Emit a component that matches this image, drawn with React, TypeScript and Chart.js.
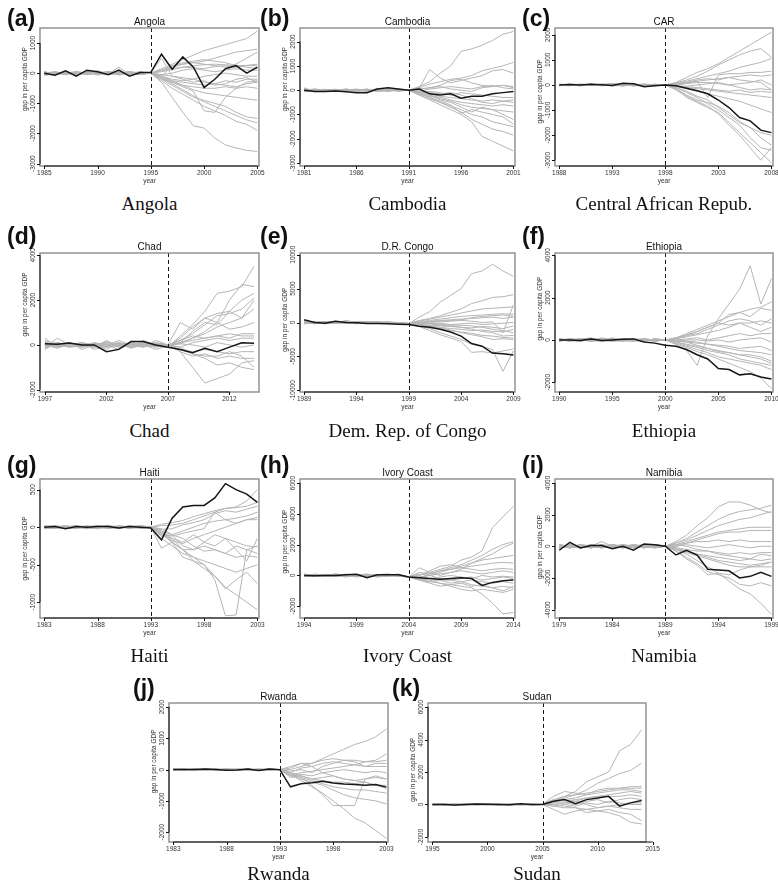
import React, { useEffect, useRef } from "react";
import { Chart, registerables } from "chart.js";
Chart.register(...registerables);

// ---------------- DATA (gap in per capita GDP) ----------------
// (a) Angola 1985-2005
const angolaXTicks = [1985, 1990, 1995, 2000, 2005];
const angolaYTicks = [-3000, -2000, -1000, 0, 1000];
const angolaBlack = [0,-70,80,-100,100,50,-50,100,-100,20,30,630,130,540,200,-480,-200,150,250,0,200];
const angolaGray = [
  [-50,0,50,-30,0,80,-20,30,0,-40,0,150,300,450,600,750,850,950,1050,1150,1400],
  [30,-20,0,50,-50,20,0,-30,60,0,0,100,200,300,350,400,500,600,700,750,800],
  [0,40,-30,0,30,-40,50,0,-20,30,0,-100,250,300,350,300,250,200,300,500,700],
  [-80,0,30,20,-30,0,40,-60,20,0,0,50,120,200,250,280,300,280,250,260,300],
  [50,-40,0,-20,40,0,-30,200,-50,40,0,80,150,200,180,150,220,250,200,250,250],
  [0,20,-50,60,0,-20,30,0,40,-30,0,-50,0,100,150,100,50,100,150,100,100],
  [-20,0,20,-40,60,30,0,-20,0,50,0,500,-100,-150,-200,-100,-50,0,-50,-100,-100],
  [40,-30,0,30,-20,50,-40,20,-30,0,0,-100,-200,-250,-200,-300,-350,-250,-300,-200,-200],
  [0,50,-20,0,30,-60,20,40,-10,-20,0,-150,-250,-300,-350,-400,-350,-400,-450,-350,-300],
  [-30,0,40,-50,0,20,-20,0,50,-40,0,-200,-300,-400,-450,-500,-500,-450,-500,-450,-500],
  [20,-20,0,40,-40,0,60,-30,0,30,0,-100,-250,-400,-550,-650,-700,-750,-800,-850,-900],
  [0,30,-40,20,0,-30,0,50,-20,0,0,-150,-300,-450,-600,-1250,-1300,-800,-500,-300,-250],
  [-50,20,0,-20,50,0,-40,0,30,-20,0,-200,-400,-600,-800,-900,-1000,-1100,-1300,-1450,-1500],
  [30,0,-30,50,-20,40,0,-50,0,20,0,-150,-350,-550,-750,-950,-1100,-1250,-1400,-1550,-1650],
  [0,-40,20,0,-30,20,-20,40,-40,0,0,-250,-500,-700,-900,-1100,-1250,-1400,-1600,-1700,-1900],
  [-20,40,0,-40,20,0,30,-20,20,-30,0,-300,-800,-1300,-1750,-1820,-2150,-2380,-2480,-2560,-2600],
  [40,0,-20,0,-40,30,0,20,-50,30,0,-50,-100,-200,-300,-250,-400,-350,-200,-150,-300],
  [0,-20,50,-30,0,-20,40,-40,20,0,0,100,250,350,400,450,400,350,250,200,150],
];

// (b) Cambodia 1981-2001
const cambodiaXTicks = [1981, 1986, 1991, 1996, 2001];
const cambodiaYTicks = [-3000, -2000, -1000, 0, 1000, 2000];
const cambodiaBlack = [0,-50,-50,-30,-60,-100,-100,50,100,50,0,50,-150,-200,-150,-330,-250,-250,-150,-100,-50];
const cambodiaGray = [
  [50,-30,0,40,-20,0,30,-40,20,0,0,150,350,700,1000,1600,1700,1850,2050,2300,2420],
  [-40,0,30,-20,40,-30,0,20,-30,40,0,100,250,350,450,500,600,800,900,1000,1150],
  [0,40,-40,0,-30,30,-20,0,40,-20,0,100,850,500,300,400,500,600,800,850,700],
  [100,-60,0,-30,0,20,-40,80,0,-10,0,50,100,200,400,450,300,200,150,200,150],
  [-20,20,-50,0,50,-20,40,-30,0,30,0,-50,50,100,150,100,50,150,200,100,50],
  [30,0,20,-40,0,40,0,-20,-40,0,0,-100,-50,-100,-200,-100,-150,-200,-250,-300,-300],
  [0,-40,0,30,-50,0,-30,40,20,-30,0,-50,-150,-250,-300,-350,-400,-450,-400,-450,-500],
  [-60,30,-20,0,20,-40,30,0,-20,20,0,-100,-200,-300,-400,-500,-550,-600,-650,-600,-650],
  [20,-20,40,-50,0,30,-50,20,0,-40,0,-150,-250,-350,-450,-600,-700,-750,-800,-850,-900],
  [-30,0,-20,20,30,-50,0,-20,50,0,0,-50,-200,-400,-500,-700,-900,-700,-800,-1000,-1200],
  [0,50,0,-40,0,20,-20,0,-30,20,0,-100,-300,-450,-600,-950,-800,-900,-1000,-1100,-1400],
  [40,-30,20,0,-40,0,50,-50,0,0,0,-200,-350,-500,-650,-800,-1000,-1100,-1300,-1400,-1500],
  [-20,20,0,30,-20,-30,0,30,-20,30,0,-150,-300,-500,-700,-900,-1200,-1400,-1600,-1700,-1850],
  [0,-50,30,-20,40,0,-40,0,30,-30,0,-200,-400,-600,-800,-1000,-1300,-1900,-2100,-2300,-2500],
  [60,0,-40,20,0,-20,20,-30,0,20,0,50,100,150,50,0,-50,100,150,200,100],
  [-50,40,0,-30,20,40,-30,0,-40,0,0,-30,-100,-150,-100,-200,-350,-500,-550,-450,-400],
];

// (c) CAR 1988-2008
const carXTicks = [1988, 1993, 1998, 2003, 2008];
const carYTicks = [-3000, -2000, -1000, 0, 1000, 2000];
const carBlack = [0,20,0,30,10,-20,70,50,-70,-30,0,-30,-130,-230,-350,-600,-900,-1300,-1430,-1800,-1900];
const carGray = [
  [0,-20,30,0,20,40,-20,0,30,-20,0,100,300,500,650,850,1100,1350,1600,1850,2100],
  [20,0,-20,40,0,30,0,-30,0,20,0,80,200,350,550,800,1000,1200,1350,1450,1100],
  [-20,30,0,20,-30,0,40,20,-20,0,0,50,150,250,350,450,550,700,800,900,1050],
  [0,-30,20,-20,30,-40,0,-20,40,0,0,50,100,150,-500,400,450,450,500,500,550],
  [30,0,-30,0,20,60,-40,0,0,30,0,30,80,150,200,250,300,350,400,350,400],
  [-30,20,0,-20,0,20,30,-30,20,-20,0,0,50,100,100,50,0,50,100,200,0],
  [0,-20,20,30,-20,0,-30,40,0,-30,0,-50,-50,0,50,100,0,-100,-200,-150,-200],
  [20,30,-20,0,20,-30,50,-30,-20,20,0,-30,-80,-100,-150,-200,-250,-200,-300,-250,-300],
  [-20,0,30,-30,0,40,0,20,-30,0,0,-50,-100,-150,-200,-250,-300,-350,-400,-450,-500],
  [0,30,0,20,-30,0,-20,0,30,-20,0,-50,-150,-250,-350,-450,-550,-650,-800,-950,-1100],
  [30,-20,-30,0,30,0,20,-40,0,20,0,-100,-250,-450,-600,-900,-1200,-1500,-1700,-1900,-2000],
  [-30,20,20,-20,0,-20,-40,30,20,0,0,-150,-400,-600,-700,-850,-1100,-1450,-1700,-2100,-2400],
  [0,-20,0,30,-20,20,40,-20,-30,30,0,-100,-300,-500,-750,-1000,-1300,-1600,-2100,-2500,-2600],
  [20,0,-20,-20,30,0,0,20,0,-20,0,-150,-500,-700,-900,-1100,-1500,-1900,-2300,-2700,-3100],
  [-20,-30,30,0,0,-30,20,0,-20,0,0,-200,-450,-650,-850,-1150,-1600,-2000,-2500,-3000,-2500],
  [10,20,-10,10,-10,40,10,10,-10,10,0,30,100,200,250,200,300,200,150,100,-200],
];

// (d) Chad 1997-2014
const chadXTicks = [1997, 2002, 2007, 2012];
const chadYTicks = [-2000, 0, 2000, 4000];
const chadBlack = [50,30,80,0,0,-300,-200,150,150,0,-100,-200,-350,-150,-300,-100,100,80];
const chadGray = [
  [300,-100,100,-200,0,100,50,-100,200,0,-100,400,900,1500,2300,2400,2600,3500],
  [-100,300,0,100,-200,-50,200,0,-100,200,0,1000,700,1200,1000,2000,2700,2600],
  [200,0,-100,-50,100,-100,0,100,0,-200,-50,300,800,1200,1400,1500,2000,2300],
  [0,-150,50,0,-100,200,-100,-50,100,0,0,200,500,900,1300,1400,1600,2100],
  [-200,100,-50,100,0,-50,100,-100,0,100,0,100,600,1000,900,1500,1200,2000],
  [100,-50,0,-100,50,0,-200,100,-50,0,0,100,300,500,800,1000,1200,1600],
  [0,50,-100,50,-100,150,0,0,100,-100,0,50,300,600,1000,700,800,1000],
  [-50,0,100,-50,50,0,50,-150,0,50,0,100,200,300,400,300,500,500],
  [150,-100,0,50,0,-100,0,50,-50,0,0,-100,100,200,300,200,300,300],
  [-150,50,-50,0,-50,50,-50,0,50,-50,0,50,0,-100,100,0,-100,0],
  [50,0,50,-100,100,0,100,-50,0,-100,0,-200,-300,-200,-300,-400,-300,-300],
  [0,-100,0,100,-50,-100,50,0,-100,50,0,-300,-500,-400,-600,-500,-600,-600],
  [-100,50,100,-100,0,50,-100,100,50,0,0,-200,-400,-600,-900,-800,-1000,-1100],
  [100,-50,-50,0,-100,100,0,-100,100,-50,0,-300,-1000,-1700,-1500,-1300,-800,-700],
  [50,100,0,-50,0,-200,100,0,-50,0,0,-100,-400,-500,-500,-300,-500,-1000],
  [-50,0,50,50,-100,0,-50,50,0,100,0,200,400,300,400,500,400,400],
];

// (e) D.R. Congo 1989-2009
const drcXTicks = [1989, 1994, 1999, 2004, 2009];
const drcYTicks = [-10000, -5000, 0, 5000, 10000];
const drcBlack = [400,0,-100,200,0,-50,-150,-150,-200,-250,-300,-550,-700,-1000,-1400,-2000,-3100,-3500,-4500,-4600,-4800];
const drcGray = [
  [-200,0,100,-100,300,0,-100,0,-100,-200,-200,800,1600,3000,4000,5000,7200,7600,8600,7600,6800],
  [100,-100,0,200,0,-200,100,0,-100,0,-100,300,600,1000,1500,2000,2800,3200,3700,3800,4100],
  [-100,100,-100,0,200,100,0,-100,0,-100,-100,200,500,800,1100,1400,1700,2000,2100,2200,2300],
  [0,-200,100,100,-100,0,-100,100,-100,0,-200,100,300,500,700,900,1000,1100,1200,1300,1200],
  [200,0,-200,0,100,-100,0,100,0,-100,-200,0,200,300,400,500,600,700,800,600,800],
  [-200,100,0,-100,-100,100,100,0,-100,-100,-200,-100,0,100,200,300,200,0,100,-1500,2600],
  [0,0,100,-100,0,0,-100,0,100,-100,-200,-200,-200,-100,-300,-200,-100,-300,-200,-100,0],
  [100,-100,0,100,-100,100,0,-100,0,0,-200,-300,-400,-500,-600,-700,-800,-600,-700,-900,-500],
  [-100,200,-100,0,0,-100,100,-100,0,-100,-200,-300,-500,-700,-900,-1000,-1200,-1100,-1300,-1400,-1000],
  [0,-100,100,0,100,0,-100,0,-100,0,-200,-400,-600,-900,-1200,-1400,-1600,-1900,-2000,-2200,-2300],
  [200,0,0,-100,0,100,0,-100,0,-100,-200,-300,-500,-800,-1100,-1500,-1800,-2100,-2500,-2400,-2500],
  [-100,0,-100,100,0,-100,0,100,-100,0,-200,-500,-900,-1500,-2000,-2500,-3200,-3500,-4000,-7200,-4200],
  [100,100,0,-100,100,0,-100,0,0,-100,-200,-600,-1200,-1800,-2300,-2800,-4400,-4300,-4500,-4200,-3900],
  [0,-100,0,0,-100,0,100,0,-100,0,-200,-100,-200,-400,-500,-700,-1000,-1300,-1500,-2000,-1900],
  [-100,100,100,0,0,-100,0,-100,0,-100,-200,0,100,200,300,400,700,900,1000,1100,900],
  [0,-100,0,100,0,100,-100,0,100,0,-200,-100,-100,-300,-400,-400,-500,-700,-1000,-1200,-1500],
];

// (f) Ethiopia 1990-2010
const ethiopiaXTicks = [1990, 1995, 2000, 2005, 2010];
const ethiopiaYTicks = [-2000, 0, 2000, 4000];
const ethiopiaBlack = [0,0,-30,50,-30,0,30,50,-100,-150,-250,-300,-450,-700,-900,-1350,-1400,-1650,-1600,-1750,-1850];
const ethiopiaGray = [
  [0,-50,50,0,-50,50,-30,0,50,0,0,-200,-500,-1200,200,1000,1700,2400,3500,1700,2900],
  [-50,50,0,-50,100,0,50,-50,0,-50,0,100,300,500,700,900,1100,1300,1450,1550,1800],
  [50,0,-50,50,0,-50,0,50,-50,50,0,100,250,400,600,800,1200,1300,1100,1500,1400],
  [0,50,0,-50,50,0,-50,0,0,-50,0,50,200,300,500,700,900,1000,900,700,1000],
  [-50,0,50,100,-50,100,0,-50,50,0,0,100,200,400,600,800,700,800,800,900,800],
  [50,-50,0,0,50,-50,50,0,-50,50,0,0,50,100,0,100,200,300,200,300,300],
  [0,0,-50,50,0,50,-50,50,0,-50,0,-50,0,0,-50,0,-100,0,50,100,-100],
  [-50,50,0,-50,0,-50,0,0,50,-50,0,-50,-100,-150,-200,-250,-300,-400,-350,-300,-500],
  [0,-50,50,50,-50,0,0,-50,0,0,0,-100,-200,-300,-400,-500,-600,-700,-700,-800,-1000],
  [50,0,-50,0,50,0,50,0,-50,50,0,-100,-250,-350,-500,-600,-700,-900,-1000,-1100,-1200],
  [-50,0,50,-50,0,50,-50,-50,50,0,0,-150,-300,-450,-600,-800,-900,-1000,-1100,-1200,-1400],
  [0,50,0,0,-50,-50,50,50,0,-50,0,-200,-350,-550,-700,-900,-1100,-1300,-1500,-1800,-2300],
  [50,-50,-50,50,50,0,0,-50,-50,50,0,-50,-100,-250,-400,-550,-600,-700,-800,-900,-1100],
  [0,0,50,-50,-50,50,0,0,50,-50,0,0,-50,-100,-200,-300,-400,-500,-550,-600,-700],
  [-50,50,0,0,50,-50,-50,50,0,0,0,50,150,250,350,450,600,800,600,400,600],
];

// (g) Haiti 1983-2003
const haitiXTicks = [1983, 1988, 1993, 1998, 2003];
const haitiYTicks = [-1000, -500, 0, 500];
const haitiBlack = [0,10,-20,10,0,10,10,-10,10,0,-10,-170,120,270,290,290,390,580,500,440,330];
const haitiGray = [
  [10,-10,20,0,-20,10,-10,20,0,10,0,40,60,90,140,180,220,250,270,350,500],
  [-20,10,0,20,-10,0,20,-10,10,-10,0,20,30,50,100,150,200,250,260,280,330],
  [10,20,-10,-20,10,20,0,10,-20,0,0,-30,-20,30,60,100,180,220,200,240,280],
  [0,-10,10,10,-10,-20,10,0,10,20,0,-50,-100,-50,0,50,80,100,120,150,200],
  [-10,0,-10,20,0,10,-10,-10,20,-10,0,-80,-120,-80,-50,-20,200,100,50,100,130],
  [20,10,0,-10,10,0,20,0,-10,0,0,-100,-150,-200,-100,-200,-250,-150,-200,-250,-260],
  [0,-20,10,0,20,-10,0,20,0,-10,0,-120,-100,-250,-300,-250,-300,-350,-400,-380,-400],
  [-10,10,20,-10,0,10,-20,0,10,10,0,-60,-150,-300,-400,-450,-500,-550,-600,-550,-500],
  [10,0,-20,10,-20,0,10,-10,0,-10,0,-280,-200,-400,-450,-500,-650,-820,-700,-600,-750],
  [0,10,0,-10,10,-10,0,10,-10,20,0,-100,-200,-300,-450,-550,-650,-800,-900,-1000,-1100],
  [-20,-10,10,0,-10,20,10,-20,10,0,0,-150,-250,-350,-400,-500,-700,-1180,-1170,-300,-350],
  [10,0,0,20,0,-10,-10,10,0,-10,0,-50,-200,-300,-300,-200,-100,-150,-300,-450,-150],
  [0,20,-10,-10,10,0,20,0,-10,10,0,-80,-180,-220,-150,-100,-50,0,50,100,100],
  [-10,-10,0,10,-20,10,0,-10,20,0,0,-20,-100,-150,-250,-320,-300,-350,-250,-300,-250],
];

// (h) Ivory Coast 1994-2014
const ivoryXTicks = [1994, 1999, 2004, 2009, 2014];
const ivoryYTicks = [-2000, 0, 2000, 4000, 6000];
const ivoryBlack = [0,-20,0,0,50,80,-150,50,50,50,-100,-150,-200,-250,-200,-150,-200,-650,-450,-350,-300];
const ivoryGray = [
  [-50,100,0,-50,50,0,-100,50,100,0,-100,0,200,400,600,1000,1200,1600,3100,3800,4500],
  [50,0,-50,100,0,50,0,-100,0,50,-100,200,100,300,500,700,1000,1300,1700,2000,2200],
  [0,-50,50,0,-100,0,50,0,-50,100,-100,500,200,0,200,400,800,1100,1400,1800,2100],
  [-50,50,0,50,0,-100,0,50,0,-50,-100,-100,0,200,400,600,800,1000,1100,1200,1300],
  [100,0,-50,0,50,50,-50,0,50,0,-100,-200,100,300,400,500,600,700,800,850,800],
  [0,50,50,-50,-50,0,50,-50,0,50,-100,0,300,600,700,500,400,300,400,450,400],
  [-50,-50,0,50,0,50,0,0,-50,0,-100,-100,0,100,200,300,200,100,200,300,200],
  [50,0,0,-50,100,-50,-50,50,50,-50,-100,-300,-200,-100,0,-100,-200,0,-100,-50,-100],
  [0,0,50,0,-50,0,100,-50,0,0,-100,-200,-400,-300,-500,-400,-300,-400,-500,-400,-500],
  [-50,50,-50,0,0,50,0,0,-50,50,-100,-300,-500,-700,-600,-500,-700,-600,-800,-700,-800],
  [50,-50,0,100,-50,0,-50,50,0,0,-100,-200,-300,-500,-700,-900,-1000,-900,-1000,-1100,-900],
  [0,50,0,-50,0,0,50,-100,50,0,-100,-300,-400,-500,-600,-700,-800,-1200,-1800,-2500,-2400],
  [-50,0,50,0,50,-50,0,0,-50,50,-100,-100,-200,-300,-300,-400,-600,-700,-800,-1000,-700],
  [50,50,-50,-50,0,50,-50,50,0,-50,-100,100,0,-200,-300,-200,-100,-300,-200,-100,-200],
];

// (i) Namibia 1979-1999
const namibiaXTicks = [1979, 1984, 1989, 1994, 1999];
const namibiaYTicks = [-4000, -2000, 0, 2000, 4000];
const namibiaBlack = [-250,250,-100,50,50,-150,0,-250,150,100,0,-550,-250,-550,-1450,-1500,-1550,-2000,-1900,-1650,-1900];
const namibiaGray = [
  [-100,100,0,-100,100,0,-100,50,0,100,0,300,700,1300,1800,2500,2800,2800,2600,2300,2100],
  [100,-100,100,0,-100,100,0,-100,100,0,0,200,500,900,1300,1700,2000,2200,2300,2400,2600],
  [0,50,-100,100,0,-100,100,0,-50,50,0,200,400,700,1000,1300,1500,1700,1800,2000,2200],
  [-100,0,100,0,300,0,-100,100,0,-100,0,100,300,500,700,900,1000,1100,1200,1200,1200],
  [100,-100,0,-100,0,100,0,-100,100,100,0,0,200,400,600,800,900,900,1000,1000,1000],
  [0,100,-100,100,-100,0,100,0,-100,0,0,100,200,300,300,400,300,400,300,300,300],
  [-100,0,0,-100,100,-100,0,100,0,100,0,0,100,0,-100,0,100,0,-100,0,0],
  [100,-100,100,0,0,100,-100,0,100,-100,0,-100,-200,-300,-300,-400,-500,-400,-500,-400,-400],
  [0,0,-100,0,-100,0,100,-100,0,100,0,-200,-300,-500,-600,-700,-800,-900,-800,-900,-800],
  [-100,100,0,100,0,-100,0,0,-100,0,0,-100,-300,-500,-700,-900,-1000,-1100,-1200,-1100,-1000],
  [100,0,0,-100,100,0,-100,100,0,-100,0,-200,-400,-600,-800,-1000,-1200,-1300,-1300,-1300,-1300],
  [0,-100,100,0,-100,100,0,0,100,0,0,-300,-700,-1100,-1600,-1800,-2000,-2400,-2500,-2300,-2500],
  [-100,100,0,0,100,-100,100,-100,0,0,0,-200,-500,-900,-1300,-1700,-2200,-2700,-3000,-3600,-4300],
  [100,0,-100,100,0,0,-100,0,100,-100,0,-300,-800,-1200,-1800,-1700,-1800,-1500,-1300,-1200,-1000],
  [0,-100,0,0,-100,100,0,100,-100,0,0,100,0,-200,-300,-500,-600,-700,-800,-500,-600],
];

// (j) Rwanda 1983-2003
const rwandaXTicks = [1983, 1988, 1993, 1998, 2003];
const rwandaYTicks = [-2000, -1000, 0, 1000, 2000];
const rwandaBlack = [0,0,0,20,0,-20,-10,20,-30,20,0,-550,-450,-420,-370,-430,-460,-480,-500,-480,-560];
const rwandaGray = [
  [0,20,-20,0,10,-10,20,0,-10,0,0,100,200,200,350,500,650,800,900,1050,1300],
  [-20,0,20,-10,0,20,0,-20,10,0,0,0,100,200,300,350,300,300,250,300,500],
  [20,-10,0,20,-20,0,-10,20,0,-10,0,-100,50,100,200,250,200,150,250,250,300],
  [0,10,-10,0,20,-20,10,0,-20,10,0,-50,0,-100,100,200,300,250,100,200,200],
  [-10,0,10,-20,0,10,0,-10,20,-10,0,-150,-100,-50,0,50,100,150,100,100,100],
  [10,-20,0,10,-10,0,20,-20,0,20,0,-200,-150,-200,-100,-50,0,-50,-100,-50,-100],
  [0,20,0,-10,10,-20,0,10,-10,0,0,-250,-200,-300,-250,-200,-300,-350,-300,-200,-300],
  [-20,0,-10,10,0,20,-20,0,10,-10,0,-100,-200,-300,-350,-400,-400,-450,-400,-500,-500],
  [10,10,0,-20,10,0,-10,0,0,20,0,-150,-250,-350,-450,-550,-600,-650,-650,-700,-750],
  [0,-10,20,0,-10,10,10,-10,20,-20,0,-200,-300,-400,-500,-650,-800,-900,-950,-1000,-1100],
  [-10,10,-20,10,0,-10,0,20,-20,0,0,-100,-250,-500,-800,-1150,-1150,-1150,-300,-250,-300],
  [20,0,0,-10,20,0,-20,0,10,0,0,-150,-350,-550,-750,-1000,-1250,-1550,-1700,-1950,-2200],
  [0,-20,10,0,-10,20,0,10,-10,10,0,50,200,100,-100,-200,-300,-350,-400,-500,-600],
];

// (k) Sudan 1995-2014
const sudanXTicks = [1995, 2000, 2005, 2010, 2015];
const sudanYTicks = [-2000, 0, 2000, 4000, 6000];
const sudanBlack = [0,0,-30,0,30,20,0,-20,50,0,0,200,300,50,300,400,500,-100,100,250];
const sudanGray = [
  [0,20,-30,0,20,0,-30,20,0,-20,0,300,500,800,1400,1700,2000,3300,3700,4600],
  [-20,0,20,-20,0,30,0,-20,30,0,0,200,400,600,900,1300,1600,1900,2100,2550],
  [20,-20,0,20,-30,0,20,0,-20,20,0,500,800,700,600,900,1000,1000,1100,1100],
  [0,-20,20,0,20,-20,0,-30,0,0,0,200,500,600,700,800,900,1000,1000,1000],
  [-30,20,0,-20,0,20,-20,0,20,-20,0,100,300,400,600,700,800,900,900,800],
  [20,0,-20,20,0,-20,20,0,-20,0,0,300,200,300,400,500,500,500,600,500],
  [0,20,0,-20,20,0,-20,20,0,-20,0,100,100,0,200,300,100,300,400,300],
  [-20,-20,20,0,-20,20,0,0,20,0,0,-100,0,-100,100,0,200,100,0,0],
  [20,20,-20,-20,0,0,20,-20,0,20,0,-300,-600,-400,-300,-200,-100,-200,-300,-300],
  [0,0,0,20,-20,20,-20,20,-20,0,0,-100,-200,-200,-500,-400,-300,-500,-600,-1000],
  [-20,20,20,0,0,-20,0,0,20,-20,0,0,-100,-200,-300,-400,-500,-700,-1100,-1200],
  [20,-20,0,0,20,0,0,20,-20,20,0,200,300,200,400,500,600,700,800,700],
  [0,0,-20,20,0,20,20,-20,0,0,0,0,100,200,0,-200,-100,0,100,100],
];

// ---------------- PANEL DEFINITIONS ----------------
type PanelDef = {
  letter: string; title: string; caption: string;
  start: number; treat: number;
  black: number[]; gray: number[][];
  xTicks: number[]; yTicks: number[];
  xMin: number; xMax: number; yMin: number; yMax: number;
  box: [number, number, number, number]; // L, T, R, B of plot area
  letterPos: [number, number];
  capY: number;
  ylabFrac: number;
};

const PANELS: PanelDef[] = [
  { letter: "(a)", title: "Angola", caption: "Angola", start: 1985, treat: 1995, black: angolaBlack, gray: angolaGray,
    xTicks: angolaXTicks, yTicks: angolaYTicks, xMin: 1984.6, xMax: 2005.15, yMin: -3080, yMax: 1500,
    box: [40, 28, 259, 166], letterPos: [7, 7], capY: 203, ylabFrac: 0.37 },
  { letter: "(b)", title: "Cambodia", caption: "Cambodia", start: 1981, treat: 1991, black: cambodiaBlack, gray: cambodiaGray,
    xTicks: cambodiaXTicks, yTicks: cambodiaYTicks, xMin: 1980.6, xMax: 2001.15, yMin: -3120, yMax: 2560,
    box: [300, 28, 515, 166], letterPos: [260, 7], capY: 203, ylabFrac: 0.37 },
  { letter: "(c)", title: "CAR", caption: "Central African Repub.", start: 1988, treat: 1998, black: carBlack, gray: carGray,
    xTicks: carXTicks, yTicks: carYTicks, xMin: 1987.6, xMax: 2008.15, yMin: -3230, yMax: 2270,
    box: [555, 28, 773, 166], letterPos: [522, 7], capY: 203, ylabFrac: 0.46 },
  { letter: "(d)", title: "Chad", caption: "Chad", start: 1997, treat: 2007, black: chadBlack, gray: chadGray,
    xTicks: chadXTicks, yTicks: chadYTicks, xMin: 1996.6, xMax: 2014.4, yMin: -2100, yMax: 4100,
    box: [40, 253, 259, 392], letterPos: [7, 225], capY: 430, ylabFrac: 0.37 },
  { letter: "(e)", title: "D.R. Congo", caption: "Dem. Rep. of Congo", start: 1989, treat: 1999, black: drcBlack, gray: drcGray,
    xTicks: drcXTicks, yTicks: drcYTicks, xMin: 1988.6, xMax: 2009.15, yMin: -10250, yMax: 10250,
    box: [300, 253, 515, 392], letterPos: [260, 225], capY: 430, ylabFrac: 0.48 },
  { letter: "(f)", title: "Ethiopia", caption: "Ethiopia", start: 1990, treat: 2000, black: ethiopiaBlack, gray: ethiopiaGray,
    xTicks: ethiopiaXTicks, yTicks: ethiopiaYTicks, xMin: 1989.6, xMax: 2010.15, yMin: -2460, yMax: 4110,
    box: [555, 253, 773, 392], letterPos: [522, 225], capY: 430, ylabFrac: 0.4 },
  { letter: "(g)", title: "Haiti", caption: "Haiti", start: 1983, treat: 1993, black: haitiBlack, gray: haitiGray,
    xTicks: haitiXTicks, yTicks: haitiYTicks, xMin: 1982.6, xMax: 2003.15, yMin: -1210, yMax: 642,
    box: [40, 479, 259, 618], letterPos: [7, 454], capY: 655, ylabFrac: 0.5 },
  { letter: "(h)", title: "Ivory Coast", caption: "Ivory Coast", start: 1994, treat: 2004, black: ivoryBlack, gray: ivoryGray,
    xTicks: ivoryXTicks, yTicks: ivoryYTicks, xMin: 1993.6, xMax: 2014.15, yMin: -2760, yMax: 6260,
    box: [300, 479, 515, 618], letterPos: [260, 454], capY: 655, ylabFrac: 0.45 },
  { letter: "(i)", title: "Namibia", caption: "Namibia", start: 1979, treat: 1989, black: namibiaBlack, gray: namibiaGray,
    xTicks: namibiaXTicks, yTicks: namibiaYTicks, xMin: 1978.6, xMax: 1999.15, yMin: -4530, yMax: 4250,
    box: [555, 479, 773, 618], letterPos: [522, 454], capY: 655, ylabFrac: 0.49 },
  { letter: "(j)", title: "Rwanda", caption: "Rwanda", start: 1983, treat: 1993, black: rwandaBlack, gray: rwandaGray,
    xTicks: rwandaXTicks, yTicks: rwandaYTicks, xMin: 1982.6, xMax: 2003.15, yMin: -2315, yMax: 2130,
    box: [169, 703, 388, 842], letterPos: [133, 677], capY: 873, ylabFrac: 0.42 },
  { letter: "(k)", title: "Sudan", caption: "Sudan", start: 1995, treat: 2005, black: sudanBlack, gray: sudanGray,
    xTicks: sudanXTicks, yTicks: sudanYTicks, xMin: 1994.6, xMax: 2014.4, yMin: -2310, yMax: 6250,
    box: [428, 703, 646, 842], letterPos: [392, 677], capY: 873, ylabFrac: 0.48 },
];

const PL = 44, PT = 24, PR = 18, PB = 26;
const SANS = '"Liberation Sans", Arial, Helvetica, sans-serif';

function PanelChart({ p }: { p: PanelDef }) {
  const ref = useRef<HTMLCanvasElement>(null);
  const [L, T, R, B] = p.box;
  const w = R - L + PL + PR;
  const h = B - T + PT + PB;

  useEffect(() => {
    if (!ref.current) return;
    const toPts = (arr: number[]) => arr.map((v, i) => ({ x: p.start + i, y: v }));
    const datasets: any[] = [
      { data: toPts(p.black), borderColor: "#161616", borderWidth: 1.5, pointRadius: 0, tension: 0, fill: false },
      ...p.gray.map((g) => ({ data: toPts(g), borderColor: "#b5b5b5", borderWidth: 1, pointRadius: 0, tension: 0, fill: false })),
    ];

    const axesPlugin = {
      id: "rAxes",
      afterDatasetsDraw(chart: any) {
        const ctx = chart.ctx as CanvasRenderingContext2D;
        const { left, right, top, bottom } = chart.chartArea;
        const xs = chart.scales.x;
        const ys = chart.scales.y;
        ctx.save();
        // treatment dashed line
        const tx = Math.round(xs.getPixelForValue(p.treat)) + 0.5;
        ctx.strokeStyle = "#1a1a1a";
        ctx.lineWidth = 1;
        ctx.setLineDash([4, 3]);
        ctx.beginPath();
        ctx.moveTo(tx, top);
        ctx.lineTo(tx, bottom);
        ctx.stroke();
        ctx.setLineDash([]);
        // frame
        ctx.strokeStyle = "#8c8c8c";
        ctx.lineWidth = 1.4;
        ctx.strokeRect(left, top, right - left, bottom - top);
        // y axis
        ctx.strokeStyle = "#111";
        ctx.lineWidth = 1;
        const yFirst = ys.getPixelForValue(p.yTicks[0]);
        const yLast = ys.getPixelForValue(p.yTicks[p.yTicks.length - 1]);
        ctx.beginPath();
        ctx.moveTo(left, yFirst);
        ctx.lineTo(left, yLast);
        p.yTicks.forEach((v) => {
          const y = Math.round(ys.getPixelForValue(v)) + 0.5;
          ctx.moveTo(left, y);
          ctx.lineTo(left - 3, y);
        });
        ctx.stroke();
        // x axis
        const xFirst = xs.getPixelForValue(p.xTicks[0]);
        const xLast = xs.getPixelForValue(p.xTicks[p.xTicks.length - 1]);
        ctx.beginPath();
        ctx.moveTo(xFirst, bottom);
        ctx.lineTo(xLast, bottom);
        p.xTicks.forEach((v) => {
          const x = Math.round(xs.getPixelForValue(v)) + 0.5;
          ctx.moveTo(x, bottom);
          ctx.lineTo(x, bottom + 3);
        });
        ctx.stroke();
        // labels
        ctx.fillStyle = "#333";
        ctx.font = `6.5px ${SANS}`;
        ctx.textAlign = "center";
        ctx.textBaseline = "middle";
        p.yTicks.forEach((v) => {
          const y = ys.getPixelForValue(v);
          ctx.save();
          ctx.translate(left - 7, y);
          ctx.rotate(-Math.PI / 2);
          ctx.fillText(String(v), 0, 0);
          ctx.restore();
        });
        ctx.save();
        ctx.translate(left - 14.5, top + p.ylabFrac * (bottom - top));
        ctx.rotate(-Math.PI / 2);
        ctx.fillText("gap in per capita GDP", 0, 0);
        ctx.restore();
        p.xTicks.forEach((v) => {
          ctx.fillText(String(v), xs.getPixelForValue(v), bottom + 7.5);
        });
        ctx.fillText("year", (left + right) / 2, bottom + 15);
        // title
        ctx.fillStyle = "#111";
        ctx.font = `10px ${SANS}`;
        ctx.textBaseline = "alphabetic";
        ctx.fillText(p.title, (left + right) / 2, top - 3);
        ctx.restore();
      },
    };

    const chart = new Chart(ref.current, {
      type: "line",
      data: { datasets },
      options: {
        animation: false,
        responsive: false,
        maintainAspectRatio: false,
        events: [],
        layout: { padding: { left: PL, top: PT, right: PR, bottom: PB } },
        scales: {
          x: { type: "linear", display: false, min: p.xMin, max: p.xMax },
          y: { type: "linear", display: false, min: p.yMin, max: p.yMax },
        },
        plugins: { legend: { display: false }, tooltip: { enabled: false }, title: { display: false } },
      },
      plugins: [axesPlugin],
    } as any);
    return () => chart.destroy();
  }, [p]);

  return (
    <canvas
      ref={ref}
      width={w}
      height={h}
      style={{ position: "absolute", left: L - PL, top: T - PT, width: w, height: h }}
    />
  );
}

export default function App() {
  return (
    <div style={{ position: "fixed", left: 0, top: 0, width: 778, height: 887, overflow: "hidden", background: "#fff" }}>
      {PANELS.map((p) => (
        <PanelChart key={p.letter} p={p} />
      ))}
      {PANELS.map((p) => (
        <div
          key={p.letter + "l"}
          style={{ position: "absolute", left: p.letterPos[0], top: p.letterPos[1], fontFamily: SANS, fontWeight: "bold", fontSize: 23, lineHeight: 1, color: "#111" }}
        >
          {p.letter}
        </div>
      ))}
      {PANELS.map((p) => (
        <div
          key={p.letter + "c"}
          style={{
            position: "absolute",
            left: (p.box[0] + p.box[2]) / 2,
            top: p.capY,
            transform: "translate(-50%, -50%)",
            whiteSpace: "nowrap",
            fontFamily: '"Liberation Serif", "Times New Roman", serif',
            fontSize: 19,
            lineHeight: 1,
            color: "#111",
          }}
        >
          {p.caption}
        </div>
      ))}
    </div>
  );
}
